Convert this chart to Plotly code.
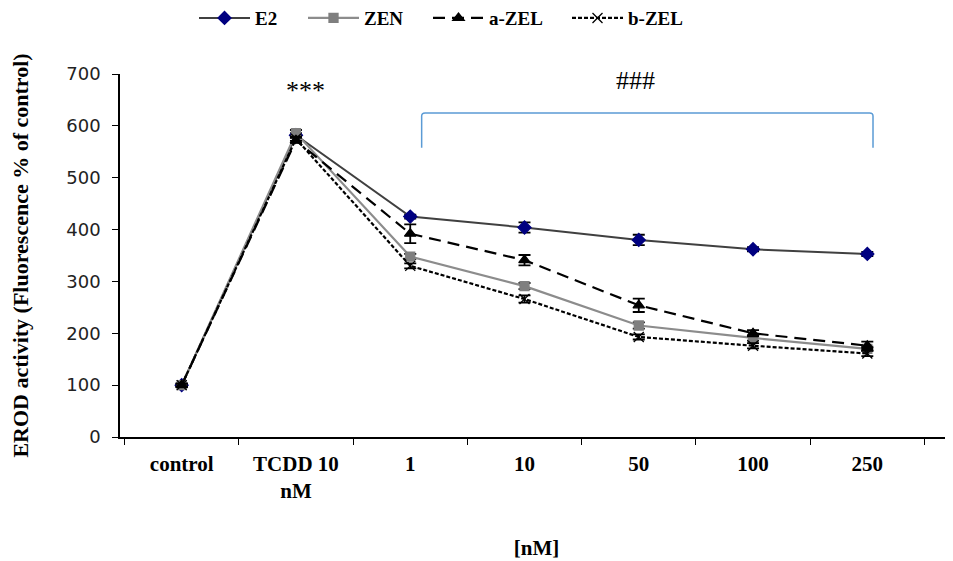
import plotly.graph_objects as go

categories = ["control", "TCDD 10<br>nM", "1", "10", "50", "100", "250"]
e2 = [100, 582, 425, 404, 380, 362, 353]
zen = [100, 586, 348, 291, 215, 191, 170]
a_zel = [100, 572, 392, 341, 254, 200, 176]
b_zel = [100, 575, 330, 266, 193, 176, 161]
e2_err = [3, 4, 4, 10, 10, 4, 4]
zen_err = [3, 6, 5, 6, 6, 5, 4]
a_zel_err = [3, 5, 18, 10, 13, 6, 8]
b_zel_err = [3, 4, 5, 7, 5, 5, 5]

serif = "Liberation Serif"
fig = go.Figure()

def add(name, y, err, color, mcolor, symbol, dash, lw, msize, legend):
    fig.add_trace(go.Scatter(
        x=categories, y=y, name=name, mode="lines+markers", legend=legend,
        line=dict(color=color, width=lw, dash=dash),
        marker=dict(symbol=symbol, size=msize, color=mcolor,
                    line=dict(color=mcolor if "x-thin" not in symbol else "black", width=1.3)),
        error_y=dict(type="data", array=err, visible=True, color="black",
                     thickness=1.8, width=6),
    ))

add("E2", e2, e2_err, "#404040", "#000080", "diamond", "solid", 2, 10, "legend")
add("ZEN", zen, zen_err, "#8c8c8c", "#7f7f7f", "square", "solid", 2.2, 9, "legend2")
add("a-ZEL", a_zel, a_zel_err, "black", "black", "triangle-up", "12px,7px", 2.2, 10, "legend3")
add("b-ZEL", b_zel, b_zel_err, "black", "black", "x-thin", "4px,2px", 2.2, 10, "legend4")

# bracket over the concentration groups
bx0, bx1 = 2.10, 6.05
by_top, by_bot = 625, 558
fig.add_shape(type="path", xref="x", yref="y",
              path=(f"M {bx0},{by_bot} L {bx0},{by_top-6} Q {bx0},{by_top} {bx0+0.03},{by_top} "
                    f"L {bx1-0.03},{by_top} Q {bx1},{by_top} {bx1},{by_top-6} L {bx1},{by_bot}"),
              line=dict(color="#5b9bd5", width=1.5))

fig.add_annotation(x=1.08, y=669, xref="x", yref="y", text="***", showarrow=False,
                   font=dict(family=serif, size=26, color="black"))
fig.add_annotation(x=3.97, y=688, xref="x", yref="y", text="###", showarrow=False,
                   font=dict(family=serif, size=26, color="black"))

PL, PW = 112, 833  # plot-area left margin and width (page is offset 8px by body margin)

def leg(xpage):
    return dict(orientation="h", x=(xpage - 8 - PL) / PW, y=1.154, xanchor="left", yanchor="middle",
                font=dict(family=serif, size=19, color="black", weight="bold"),
                itemwidth=51, bgcolor="rgba(0,0,0,0)")

fig.update_layout(
    width=953, height=561,
    paper_bgcolor="white", plot_bgcolor="white",
    margin=dict(l=PL, r=8, t=66, b=132, autoexpand=False),
    showlegend=True,
    legend=leg(194), legend2=leg(303), legend3=leg(428), legend4=leg(567),
    xaxis=dict(
        type="category", range=[-0.54, 6.75], tickson="boundaries",
        showline=True, linecolor="black", linewidth=1.5,
        ticks="outside", ticklen=6, tickcolor="black", tickwidth=1, ticklabelstandoff=7,
        tickfont=dict(family=serif, size=21, color="black", weight="bold"),
        showgrid=False, zeroline=False,
        title=dict(text="<b>[nM]</b>", font=dict(family=serif, size=21, color="black"), standoff=38),
    ),
    yaxis=dict(
        range=[0, 700], tickvals=[0, 100, 200, 300, 400, 500, 600, 700],
        showline=True, linecolor="black", linewidth=1.5,
        ticks="outside", ticklen=6, tickcolor="black", ticklabelstandoff=8,
        tickfont=dict(family="DejaVu Sans", size=18, color="#222222"),
        showgrid=False, zeroline=False,
        title=dict(text="<b>EROD activity (Fluorescence % of control)</b>",
                   font=dict(family=serif, size=22, color="black"), standoff=36),
    ),
)

fig.write_html("out.html")
